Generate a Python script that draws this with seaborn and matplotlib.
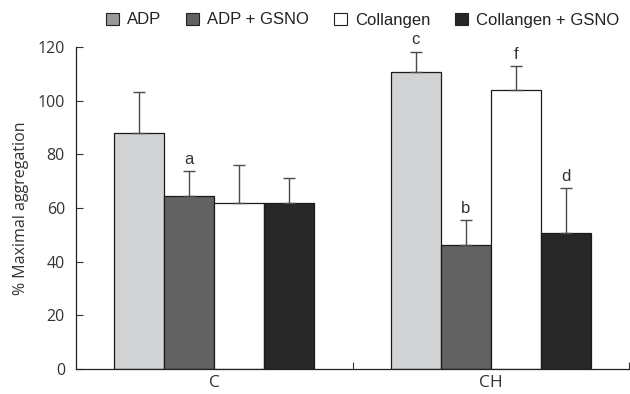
import matplotlib
matplotlib.use("Agg")
import matplotlib.pyplot as plt
import seaborn as sns
import pandas as pd
from matplotlib.patches import Patch

groups = ["C", "CH"]
treatments = ["ADP", "ADP + GSNO", "Collangen", "Collangen + GSNO"]
means = {
    "ADP": [87.8, 110.8],
    "ADP + GSNO": [64.4, 46.1],
    "Collangen": [61.8, 103.9],
    "Collangen + GSNO": [61.8, 50.8],
}
errs = {
    "ADP": [15.6, 7.5],
    "ADP + GSNO": [9.5, 9.3],
    "Collangen": [14.3, 9.1],
    "Collangen + GSNO": [9.5, 16.5],
}
letters = {
    ("ADP + GSNO", "C"): "a",
    ("ADP", "CH"): "c",
    ("ADP + GSNO", "CH"): "b",
    ("Collangen", "CH"): "f",
    ("Collangen + GSNO", "CH"): "d",
}
colors = ["#d2d3d5", "#626263", "#ffffff", "#272727"]
yticks = [0, 20, 40, 60, 80, 100, 120]

rows = []
for t in treatments:
    for i, g in enumerate(groups):
        rows.append({"group": g, "treatment": t, "value": means[t][i], "err": errs[t][i]})
df = pd.DataFrame(rows)

sns.set_style("white")
plt.rcParams["font.family"] = ["Liberation Sans", "DejaVu Sans"]

fig = plt.figure(figsize=(6.3, 3.94), dpi=100)
ax = fig.add_axes([76 / 630, 25 / 394, 553 / 630, 322 / 394])

sns.barplot(data=df, x="group", y="value", hue="treatment", order=groups,
            hue_order=treatments, palette=colors, edgecolor="#1a1a1a",
            linewidth=0.9, width=0.724, errorbar=None, legend=False, ax=ax)

for cont, t in zip(ax.containers, treatments):
    for bar, g in zip(cont, groups):
        row = df[(df.treatment == t) & (df.group == g)].iloc[0]
        xc = bar.get_x() + bar.get_width() / 2
        top = bar.get_height()
        ax.errorbar(xc, top, yerr=[[0], [row.err]], fmt="none", ecolor="#4a4a4a",
                    elinewidth=1.0, capsize=4.5, capthick=1.0, zorder=3)
        lab = letters.get((t, g))
        if lab:
            ax.annotate(lab, (xc, top + row.err), xytext=(0, 3), textcoords="offset points",
                        ha="center", va="bottom", fontsize=12, color="#333333",
                        annotation_clip=False)

ax.set_xlim(-0.5, 1.5)
ax.set_ylim(0, 120)
ax.set_yticks(yticks)
ax.set_yticklabels([str(v) for v in yticks], fontsize=11.5, color="#333333",
                   family=["Open Sans", "DejaVu Sans"])
ax.set_xticks([0, 1])
ax.set_xticklabels(groups, fontsize=12.5, color="#333333", family=["Open Sans", "DejaVu Sans"])
ax.set_xticks([0.5, 1.5], minor=True)
ax.tick_params(axis="y", direction="in", length=5, width=0.8, color="#333333", pad=8, left=True)
ax.tick_params(axis="x", which="major", length=0, pad=4)
ax.tick_params(axis="x", which="minor", direction="in", length=5, width=0.8,
               color="#333333", bottom=True, labelbottom=False)
ax.set_xlabel("")
ax.set_ylabel("% Maximal aggregation", fontsize=11.5, color="#333333",
              family=["Open Sans", "DejaVu Sans"], labelpad=6)
for s in ["top", "right"]:
    ax.spines[s].set_visible(False)
for s in ["left", "bottom"]:
    ax.spines[s].set_color("#222222")
    ax.spines[s].set_linewidth(0.9)

handles = [Patch(facecolor=c, edgecolor="#222222", linewidth=0.8) for c in colors]
handles[0] = Patch(facecolor="#9a9a9c", edgecolor="#222222", linewidth=0.8)
fig.legend(handles, treatments, loc="center left", bbox_to_anchor=(98 / 630, 1 - 20 / 394),
           ncol=4, frameon=False, fontsize=12, handlelength=0.75, handleheight=0.75,
           handletextpad=0.5, columnspacing=1.5, borderpad=0, labelcolor="#222222")

fig.savefig("out.png", dpi=100)
